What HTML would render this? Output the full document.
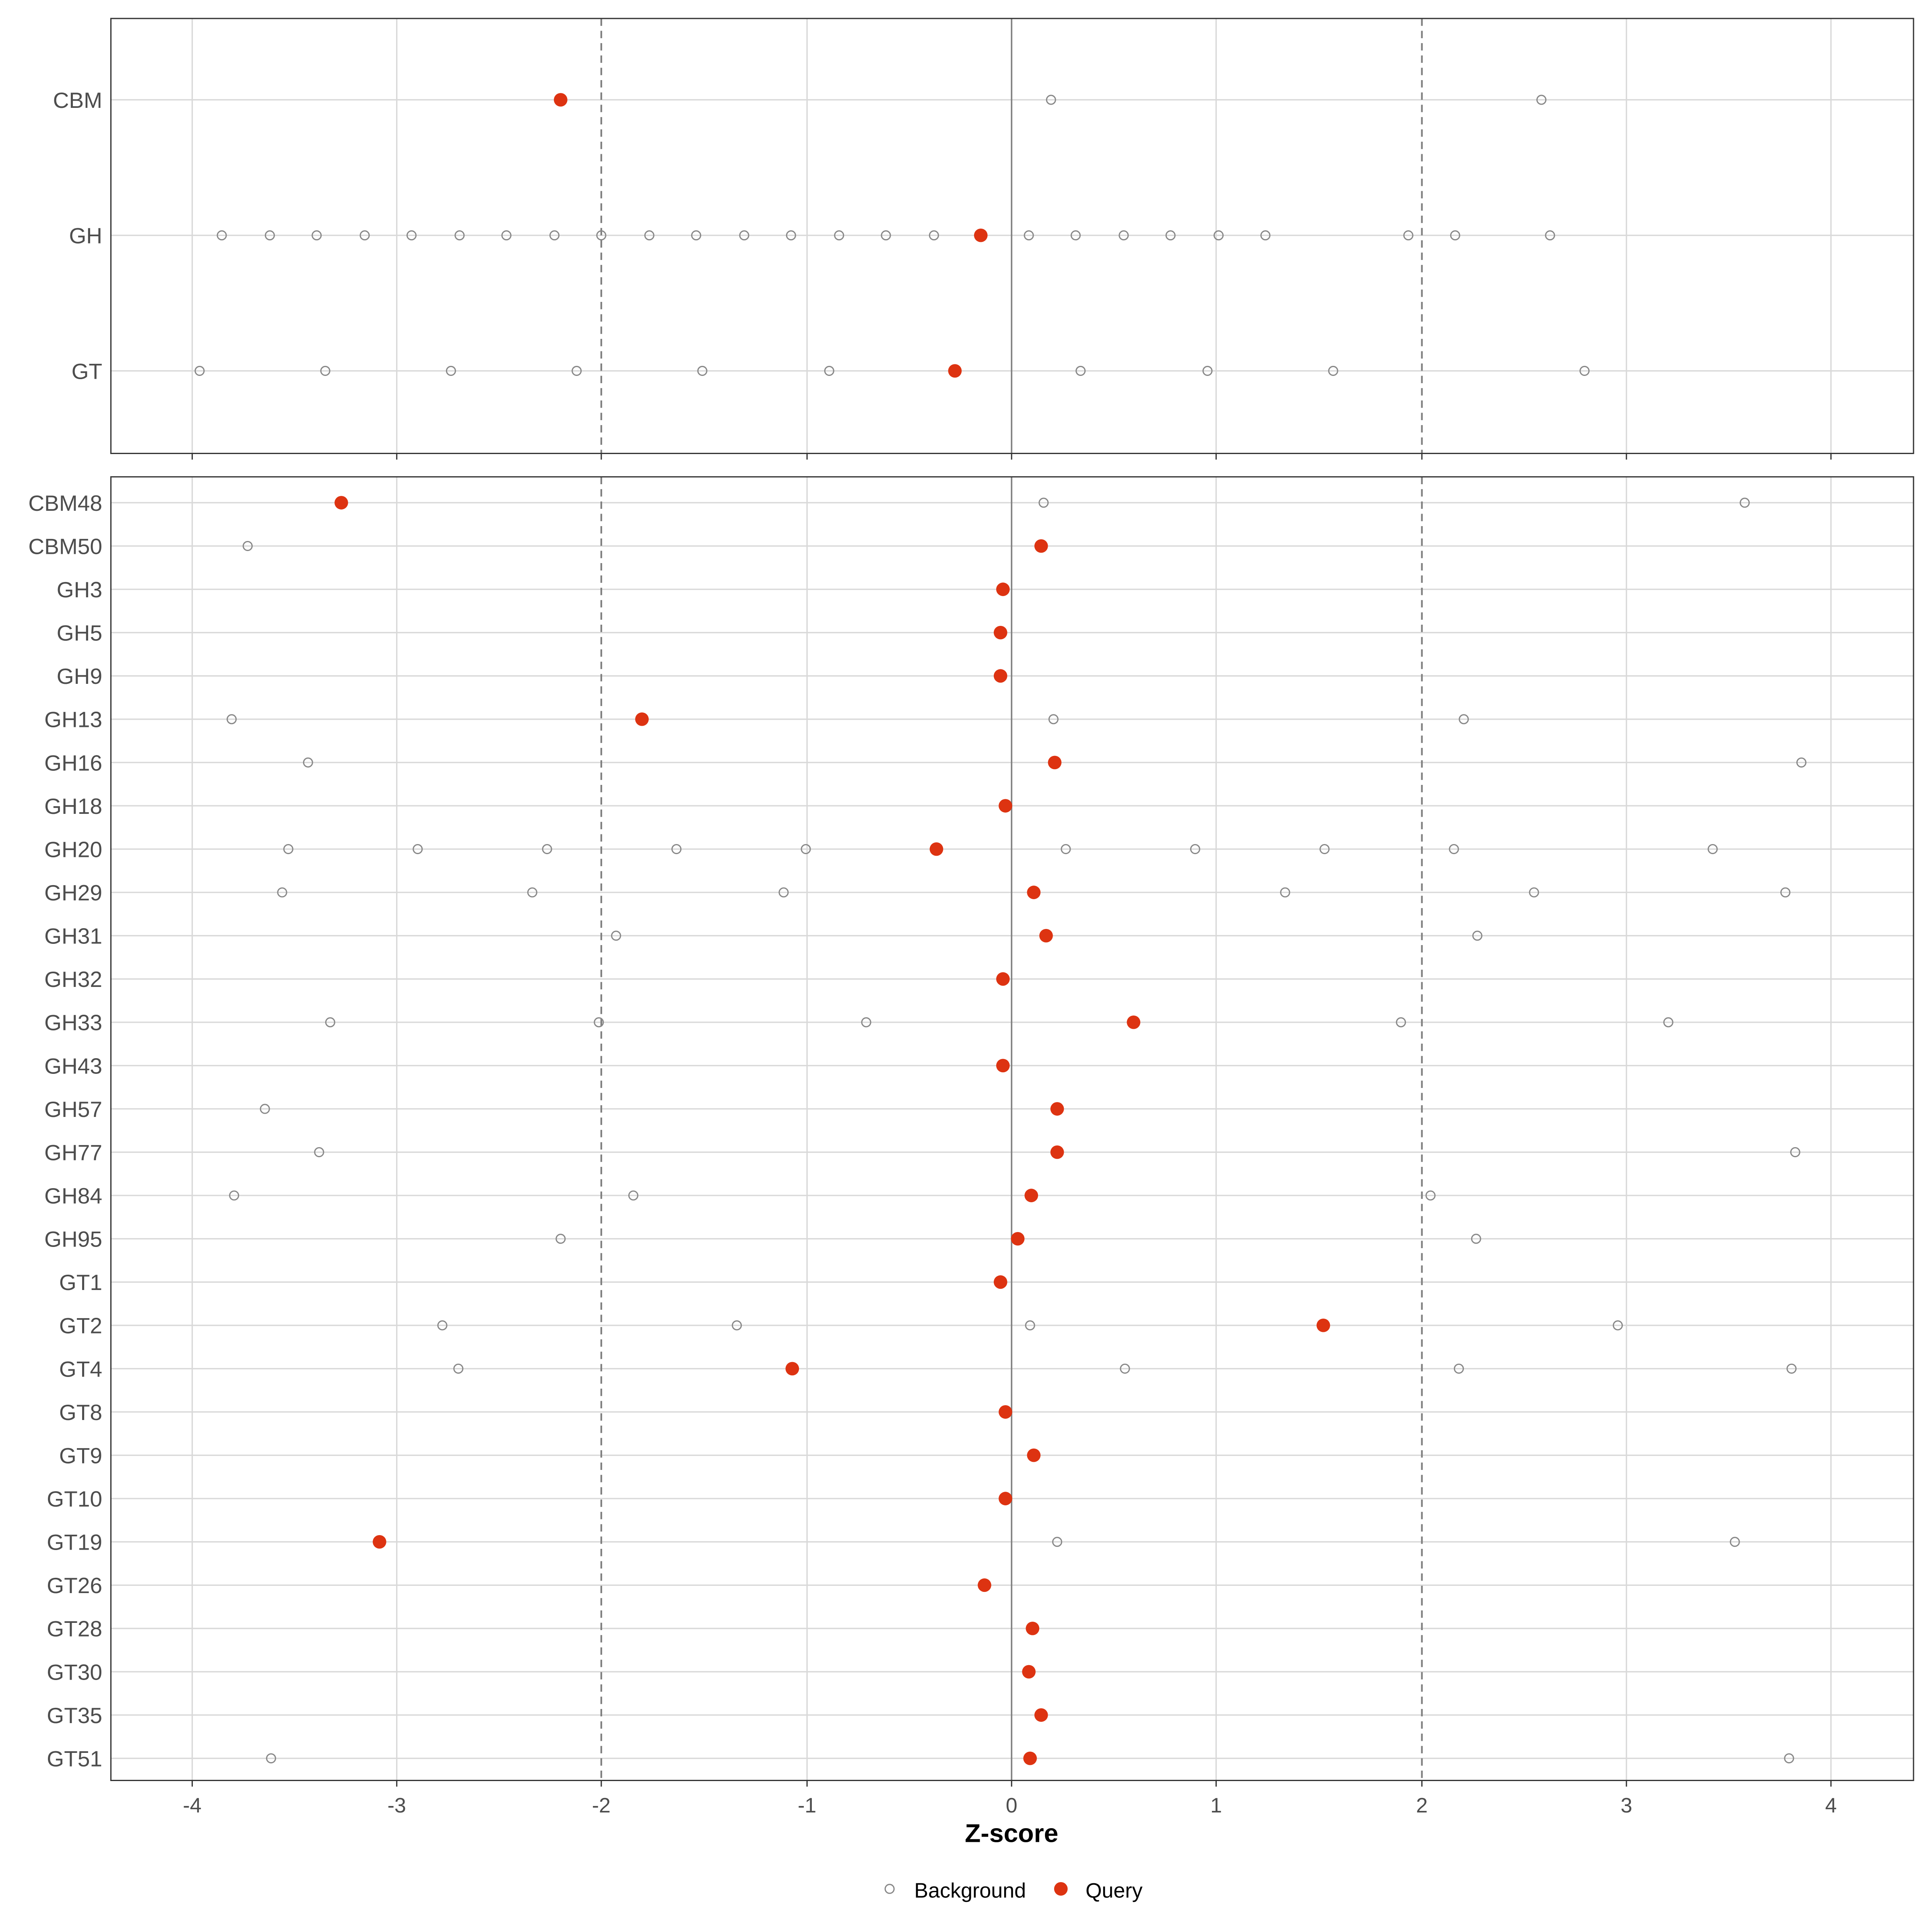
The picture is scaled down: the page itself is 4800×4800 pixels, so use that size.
<!DOCTYPE html>
<html><head><meta charset="utf-8"><style>html,body{margin:0;padding:0;background:#fff}svg{display:block}</style></head>
<body>
<svg xmlns="http://www.w3.org/2000/svg" width="4800" height="4800" viewBox="0 0 1568 1568" font-family="Liberation Sans, sans-serif">
<rect width="1568" height="1568" fill="#fff"/>
<g id="grid" stroke="#d9d9d9" stroke-width="1.1">
<line x1="156" y1="15" x2="156" y2="368"/><line x1="322" y1="15" x2="322" y2="368"/><line x1="655" y1="15" x2="655" y2="368"/><line x1="987" y1="15" x2="987" y2="368"/><line x1="1320" y1="15" x2="1320" y2="368"/><line x1="1486" y1="15" x2="1486" y2="368"/>
<line x1="90" y1="81" x2="1553" y2="81"/><line x1="90" y1="191" x2="1553" y2="191"/><line x1="90" y1="301" x2="1553" y2="301"/>
<line x1="156" y1="387" x2="156" y2="1445"/><line x1="322" y1="387" x2="322" y2="1445"/><line x1="655" y1="387" x2="655" y2="1445"/><line x1="987" y1="387" x2="987" y2="1445"/><line x1="1320" y1="387" x2="1320" y2="1445"/><line x1="1486" y1="387" x2="1486" y2="1445"/>
</g>
<g id="hrows" stroke="#d9d9d9" stroke-width="1.1"></g>
<g stroke="#808080" stroke-width="1.2">
<line x1="821" y1="15" x2="821" y2="368"/><line x1="821" y1="387" x2="821" y2="1445"/>
</g>
<g stroke="#808080" stroke-width="1.4" stroke-dasharray="6,4">
<line x1="488" y1="15" x2="488" y2="368"/><line x1="1154" y1="15" x2="1154" y2="368"/>
<line x1="488" y1="387" x2="488" y2="1445"/><line x1="1154" y1="387" x2="1154" y2="1445"/>
</g>
<rect x="90" y="15" width="1463" height="353" fill="none" stroke="#333" stroke-width="1"/>
<rect x="90" y="387" width="1463" height="1058" fill="none" stroke="#333" stroke-width="1"/>
<g id="pts"></g>
<g id="labels" font-size="18" fill="#4d4d4d" text-anchor="end"></g>
<g font-size="17" fill="#4d4d4d" text-anchor="middle">
<text x="156" y="1471">-4</text><text x="322" y="1471">-3</text><text x="488" y="1471">-2</text><text x="655" y="1471">-1</text><text x="821" y="1471">0</text><text x="987" y="1471">1</text><text x="1154" y="1471">2</text><text x="1320" y="1471">3</text><text x="1486" y="1471">4</text>
</g>
<g stroke="#333" stroke-width="1">
<line x1="156" y1="1445" x2="156" y2="1450"/><line x1="322" y1="1445" x2="322" y2="1450"/><line x1="488" y1="1445" x2="488" y2="1450"/><line x1="655" y1="1445" x2="655" y2="1450"/><line x1="821" y1="1445" x2="821" y2="1450"/><line x1="987" y1="1445" x2="987" y2="1450"/><line x1="1154" y1="1445" x2="1154" y2="1450"/><line x1="1320" y1="1445" x2="1320" y2="1450"/><line x1="1486" y1="1445" x2="1486" y2="1450"/>
<line x1="156" y1="368" x2="156" y2="373"/><line x1="322" y1="368" x2="322" y2="373"/><line x1="488" y1="368" x2="488" y2="373"/><line x1="655" y1="368" x2="655" y2="373"/><line x1="821" y1="368" x2="821" y2="373"/><line x1="987" y1="368" x2="987" y2="373"/><line x1="1154" y1="368" x2="1154" y2="373"/><line x1="1320" y1="368" x2="1320" y2="373"/><line x1="1486" y1="368" x2="1486" y2="373"/>
</g>
<text x="821" y="1495" font-size="21" font-weight="bold" text-anchor="middle" fill="#000">Z-score</text>
<circle cx="722" cy="1533" r="3.6" fill="none" stroke="#888" stroke-width="1"/>
<text x="742" y="1540" font-size="17" fill="#000">Background</text>
<circle cx="861" cy="1533" r="5.5" fill="#dd3311"/>
<text x="881" y="1540" font-size="17" fill="#000">Query</text>
<script>
(function(){
var NS="http://www.w3.org/2000/svg";
function el(p,t,a,txt){var e=document.createElementNS(NS,t);for(var k in a)e.setAttribute(k,a[k]);if(txt)e.textContent=txt;document.getElementById(p).appendChild(e);}
var topRows=[["CBM",81,[853,1251],455],["GH",191,[180,219,257,296,334,373,411,450,488,527,565,604,642,681,719,758,835,873,912,950,989,1027,1143,1181,1258],796],["GT",301,[162,264,366,468,570,673,877,980,1082,1286],775]];
var botRows=[["CBM48",[847,1416],277],["CBM50",[201],845],["GH3",[],814],["GH5",[],812],["GH9",[],812],["GH13",[188,855,1188],521],["GH16",[250,1462],856],["GH18",[],816],["GH20",[234,339,444,549,654,865,970,1075,1180,1390],760],["GH29",[229,432,636,1043,1245,1449],839],["GH31",[500,1199],849],["GH32",[],814],["GH33",[268,486,703,1137,1354],920],["GH43",[],814],["GH57",[215],858],["GH77",[259,1457],858],["GH84",[190,514,1161],837],["GH95",[455,1198],826],["GT1",[],812],["GT2",[359,598,836,1313],1074],["GT4",[372,913,1184,1454],643],["GT8",[],816],["GT9",[],839],["GT10",[],816],["GT19",[858,1408],308],["GT26",[],799],["GT28",[],838],["GT30",[],835],["GT35",[],845],["GT51",[220,1452],836]];
var rows=topRows.slice();
botRows.forEach(function(r,i){var y=408+i*35.14;rows.push([r[0],y,r[1],r[2]]);el("hrows","line",{x1:90,x2:1553,y1:y,y2:y});});
rows.forEach(function(r){
el("labels","text",{x:83,y:r[1]+6.5},r[0]);
r[2].forEach(function(x){el("pts","circle",{cx:x,cy:r[1],r:3.6,fill:"none",stroke:"#888","stroke-width":1});});
el("pts","circle",{cx:r[3],cy:r[1],r:5.5,fill:"#dd3311"});
});
})();
</script>
</svg>
</body></html>
